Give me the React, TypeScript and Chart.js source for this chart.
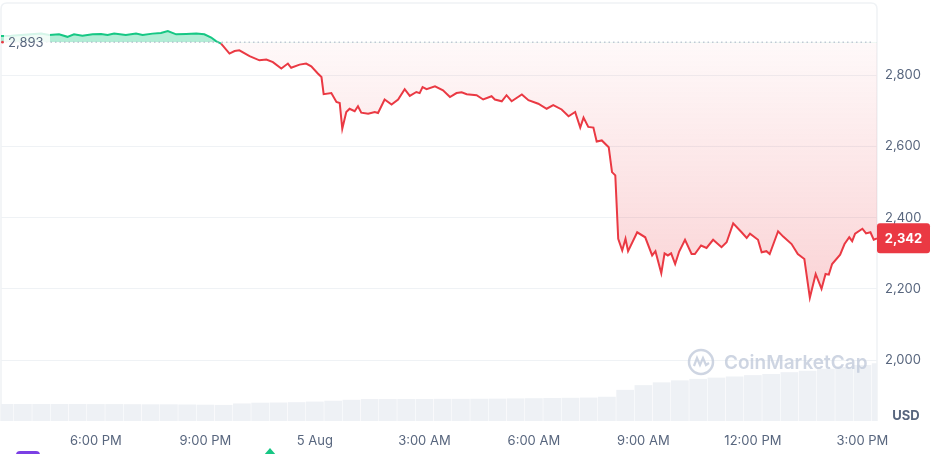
import React, { useEffect, useRef } from "react";
import { Chart, registerables } from "chart.js";

Chart.register(...registerables);

const priceHours = [
  15.4, 15.68, 15.95, 16.22, 16.5, 16.72, 16.99, 17.22, 17.4, 17.63, 17.91, 18.14, 18.32, 18.5, 18.82,
  19.1, 19.28, 19.55, 19.78, 19.97, 20.2, 20.47, 20.75, 20.97, 21.16, 21.29, 21.43, 21.66, 21.8, 21.93,
  22.21, 22.48, 22.67, 22.85, 23.08, 23.26, 23.35, 23.58, 23.76, 23.9, 24.08, 24.18, 24.24, 24.45, 24.59,
  24.68, 24.75, 24.86, 24.95, 25.09, 25.18, 25.27, 25.46, 25.64, 25.73, 25.91, 26.1, 26.28, 26.46, 26.6,
  26.78, 26.87, 26.95, 27.06, 27.29, 27.51, 27.7, 27.88, 28.02, 28.16, 28.43, 28.61, 28.84, 28.93, 29.12,
  29.25, 29.39, 29.67, 29.85, 30.12, 30.35, 30.53, 30.76, 30.95, 31.13, 31.27, 31.36, 31.49, 31.63, 31.72,
  31.86, 32.05, 32.14, 32.23, 32.31, 32.42, 32.51, 32.58, 32.83, 33.05, 33.24, 33.33, 33.49, 33.58, 33.67,
  33.76, 33.87, 33.98, 34.14, 34.32, 34.41, 34.58, 34.73, 34.91, 35.14, 35.28, 35.46, 35.69, 35.83, 35.92,
  36.14, 36.24, 36.37, 36.46, 36.69, 36.83, 37.06, 37.23, 37.41, 37.56, 37.72, 37.88, 37.99, 38.08, 38.17,
  38.39, 38.51, 38.64, 38.72, 38.8, 39.0, 39.1, 39.22, 39.31, 39.4,
];

const priceValues = [
  2910, 2911, 2913, 2915, 2917, 2913, 2915, 2908, 2915, 2911, 2915, 2916, 2913, 2917, 2913,
  2917, 2913, 2917, 2919, 2924, 2915, 2916, 2917, 2915, 2906, 2896, 2889, 2861, 2868, 2870,
  2854, 2842, 2844, 2837, 2819, 2833, 2821, 2830, 2833, 2825, 2805, 2795, 2747, 2750, 2725,
  2722, 2650, 2697, 2706, 2699, 2713, 2695, 2692, 2697, 2694, 2732, 2718, 2732, 2761, 2742,
  2753, 2750, 2767, 2761, 2769, 2758, 2739, 2750, 2752, 2747, 2744, 2732, 2741, 2732, 2727,
  2744, 2727, 2746, 2730, 2720, 2706, 2716, 2704, 2685, 2697, 2653, 2681, 2655, 2653, 2614,
  2617, 2598, 2528, 2519, 2341, 2308, 2341, 2306, 2359, 2345, 2294, 2306, 2244, 2300, 2294,
  2300, 2270, 2305, 2338, 2298, 2298, 2322, 2315, 2338, 2317, 2331, 2384, 2359, 2343, 2355,
  2338, 2303, 2306, 2298, 2362, 2347, 2326, 2298, 2284, 2175, 2242, 2200, 2242, 2240, 2270,
  2296, 2326, 2345, 2334, 2355, 2369, 2356, 2359, 2338, 2342,
];

const volumeHours = [
  15.5, 16.0, 16.5, 17.0, 17.5, 18.0, 18.5, 19.0, 19.5, 20.0, 20.5, 21.0, 21.5, 22.0, 22.5, 23.0, 23.5,
  24.0, 24.5, 25.0, 25.5, 26.0, 26.5, 27.0, 27.5, 28.0, 28.5, 29.0, 29.5, 30.0, 30.5, 31.0, 31.5, 32.0,
  32.5, 33.0, 33.5, 34.0, 34.5, 35.0, 35.5, 36.0, 36.5, 37.0, 37.5, 38.0, 38.5, 39.0, 39.5,
];

const volumeValues = [
  16.3, 16.3, 16.3, 16.3, 16.3, 16.2, 16.2, 16.1, 16.0, 16.0, 15.8, 15.6, 15.4, 16.8, 17.5, 17.7, 18.0,
  18.6, 19.4, 20.3, 21.0, 21.0, 21.1, 21.1, 21.2, 21.2, 21.3, 21.4, 21.6, 21.8, 22.0, 22.2, 22.4, 23.2,
  29.8, 34.3, 37.0, 38.9, 40.3, 41.5, 42.6, 43.9, 45.0, 46.7, 48.1, 50.0, 51.6, 53.6, 55.2,
];

const xTickHours = [18, 21, 24, 27, 30, 33, 36, 39];
const xTickLabels = ["6:00 PM", "9:00 PM", "5 Aug", "3:00 AM", "6:00 AM", "9:00 AM", "12:00 PM", "3:00 PM"];
const yTickValues = [2000, 2200, 2400, 2600, 2800];

const openPrice = 2893;
const lastPrice = 2342;

const GREEN = "#16c784";
const RED = "#ea3943";
const TEXT = "#58667e";
const FONT = "Inter, 'Noto Sans', sans-serif";

export default function App() {
  const canvasRef = useRef<HTMLCanvasElement | null>(null);

  useEffect(() => {
    const canvas = canvasRef.current;
    if (!canvas) return;

    const overlay = {
      id: "overlay",
      beforeDatasetsDraw(chart: any) {
        const { ctx, chartArea } = chart;
        const { left, top, right, bottom } = chartArea;
        ctx.save();
        ctx.strokeStyle = "#eff2f5";
        ctx.lineWidth = 1.5;
        const r = 6;
        ctx.beginPath();
        ctx.moveTo(left, bottom);
        ctx.lineTo(left, top + r);
        ctx.quadraticCurveTo(left, top, left + r, top);
        ctx.lineTo(right - r, top);
        ctx.quadraticCurveTo(right, top, right, top + r);
        ctx.lineTo(right, bottom);
        ctx.stroke();
        ctx.restore();
      },
      afterDatasetsDraw(chart: any) {
        const { ctx, chartArea, scales } = chart;
        const { left, right } = chartArea;
        const yBase = scales.y.getPixelForValue(openPrice);
        ctx.save();
        // dotted open-price line
        ctx.strokeStyle = "#a6b0c3";
        ctx.lineWidth = 1;
        ctx.setLineDash([1.5, 3]);
        ctx.beginPath();
        ctx.moveTo(left, yBase);
        ctx.lineTo(right - 3, yBase);
        ctx.stroke();
        ctx.setLineDash([]);
        // open price label
        ctx.fillStyle = "rgba(255,255,255,0.82)";
        ctx.fillRect(left + 3, yBase - 11, 46, 22);
        ctx.fillStyle = RED;
        ctx.beginPath();
        ctx.arc(left + 1.5, yBase, 1.3, 0, Math.PI * 2);
        ctx.fill();
        ctx.fillStyle = TEXT;
        ctx.font = `13px ${FONT}`;
        ctx.textAlign = "left";
        ctx.textBaseline = "middle";
        ctx.fillText(openPrice.toLocaleString("en-US"), left + 7, yBase + 1);

        // watermark
        const wx = 701;
        const wy = 362;
        ctx.strokeStyle = "rgba(190,199,216,0.75)";
        ctx.lineWidth = 2.5;
        ctx.beginPath();
        ctx.arc(wx, wy, 12, 0, Math.PI * 2);
        ctx.stroke();
        ctx.lineWidth = 2.2;
        ctx.beginPath();
        ctx.moveTo(wx - 7, wy + 4);
        ctx.lineTo(wx - 4, wy - 4);
        ctx.lineTo(wx - 1, wy + 3);
        ctx.lineTo(wx + 2, wy - 4);
        ctx.lineTo(wx + 5, wy + 3);
        ctx.lineTo(wx + 8, wy + 1);
        ctx.stroke();
        ctx.fillStyle = "rgba(190,199,216,0.75)";
        ctx.font = `600 19px ${FONT}`;
        ctx.textAlign = "left";
        ctx.textBaseline = "middle";
        ctx.fillText("CoinMarketCap", 724, wy + 1);
        ctx.restore();
      },
      afterDraw(chart: any) {
        const { ctx, chartArea, scales } = chart;
        const { right } = chartArea;
        const yLast = scales.y.getPixelForValue(lastPrice);
        ctx.save();
        // last price tag
        const bw = 53;
        const bh = 30;
        const bx = right;
        const by = yLast - bh / 2;
        const rr = 3;
        ctx.fillStyle = RED;
        ctx.beginPath();
        ctx.moveTo(bx + rr, by);
        ctx.lineTo(bx + bw - rr, by);
        ctx.quadraticCurveTo(bx + bw, by, bx + bw, by + rr);
        ctx.lineTo(bx + bw, by + bh - rr);
        ctx.quadraticCurveTo(bx + bw, by + bh, bx + bw - rr, by + bh);
        ctx.lineTo(bx + rr, by + bh);
        ctx.quadraticCurveTo(bx, by + bh, bx, by + bh - rr);
        ctx.lineTo(bx, by + rr);
        ctx.quadraticCurveTo(bx, by, bx + rr, by);
        ctx.fill();
        ctx.fillStyle = "#ffffff";
        ctx.font = `bold 13px ${FONT}`;
        ctx.textAlign = "center";
        ctx.textBaseline = "middle";
        ctx.fillText(lastPrice.toLocaleString("en-US"), bx + bw / 2, yLast + 1);

        // currency label
        ctx.fillStyle = TEXT;
        ctx.font = `bold 13px ${FONT}`;
        ctx.textAlign = "center";
        ctx.fillText("USD", 906, 416);

        // event markers at bottom edge
        ctx.fillStyle = "#7b3fe4";
        ctx.beginPath();
        ctx.moveTo(20, 451);
        ctx.lineTo(36, 451);
        ctx.quadraticCurveTo(40, 451, 40, 455);
        ctx.lineTo(40, 460);
        ctx.lineTo(16, 460);
        ctx.lineTo(16, 455);
        ctx.quadraticCurveTo(16, 451, 20, 451);
        ctx.fill();
        ctx.fillStyle = GREEN;
        ctx.beginPath();
        ctx.moveTo(270, 448);
        ctx.lineTo(276, 455);
        ctx.lineTo(264, 455);
        ctx.closePath();
        ctx.fill();
        ctx.restore();
      },
    };

    const zeroPad = (scale: any) => {
      scale.paddingTop = 0;
      scale.paddingBottom = 0;
      scale.paddingLeft = 0;
      scale.paddingRight = 0;
    };

    const chart = new Chart(canvas, {
      type: "line",
      data: {
        datasets: [
          {
            type: "line",
            data: priceHours.map((h, i) => ({ x: h, y: priceValues[i] })),
            borderColor: RED,
            borderWidth: 2,
            pointRadius: 0,
            tension: 0,
            yAxisID: "y",
            order: 0,
            fill: { target: { value: openPrice }, above: "rgba(22,199,132,0.33)", below: "rgba(234,57,67,0.1)" },
            segment: {
              borderColor: (c: any) =>
                c.p0.parsed.y >= openPrice && c.p1.parsed.y >= openPrice - 4 ? GREEN : RED,
            },
          } as any,
          {
            type: "bar",
            data: volumeHours.map((h, i) => ({ x: h, y: volumeValues[i] })),
            backgroundColor: "#eef1f5",
            borderWidth: 0,
            barPercentage: 0.97,
            categoryPercentage: 1,
            yAxisID: "vol",
            order: 1,
          } as any,
        ],
      },
      options: {
        animation: false,
        responsive: false,
        events: [],
        layout: { padding: { left: 1, top: 3, right: 0, bottom: 0 } },
        plugins: { legend: { display: false }, tooltip: { enabled: false } },
        scales: {
          x: {
            type: "linear",
            position: "bottom",
            offset: false,
            min: priceHours[0],
            max: priceHours[priceHours.length - 1],
            grid: { display: false, drawTicks: false, offset: false },
            border: { display: false },
            afterBuildTicks: (scale: any) => {
              scale.ticks = xTickHours.map((v) => ({ value: v }));
            },
            afterFit: (scale: any) => {
              scale.height = 33;
              zeroPad(scale);
            },
            ticks: {
              autoSkip: false,
              maxRotation: 0,
              padding: 12,
              color: TEXT,
              font: { family: FONT, size: 13 },
              callback: (v: any) => {
                const i = xTickHours.indexOf(Number(v));
                return i >= 0 ? xTickLabels[i] : "";
              },
            },
          },
          y: {
            type: "linear",
            position: "right",
            min: 1829,
            max: 3003,
            grid: { color: "#eff2f5", lineWidth: 1, drawTicks: false },
            border: { display: false },
            afterBuildTicks: (scale: any) => {
              scale.ticks = yTickValues.map((v) => ({ value: v }));
            },
            afterFit: (scale: any) => {
              scale.width = 64;
              zeroPad(scale);
            },
            ticks: {
              padding: 8,
              color: TEXT,
              font: { family: FONT, size: 13 },
              callback: (v: any) => Number(v).toLocaleString("en-US"),
            },
          },
          vol: {
            type: "linear",
            display: false,
            min: 0,
            max: 400,
          },
        },
      },
      plugins: [overlay],
    } as any);

    const area = chart.chartArea;
    const yTop = chart.scales.y.getPixelForValue(openPrice);
    const g = chart.ctx.createLinearGradient(0, yTop, 0, area.bottom - 100);
    g.addColorStop(0, "rgba(234,57,67,0.03)");
    g.addColorStop(1, "rgba(234,57,67,0.24)");
    (chart.data.datasets[0] as any).fill = {
      target: { value: openPrice },
      above: "rgba(22,199,132,0.33)",
      below: g,
    };
    chart.update();

    return () => {
      chart.destroy();
    };
  }, []);

  return (
    <div style={{ position: "absolute", left: 0, top: 0, width: 941, height: 454, background: "#fff" }}>
      <canvas ref={canvasRef} width={941} height={454} style={{ display: "block" }} />
    </div>
  );
}
